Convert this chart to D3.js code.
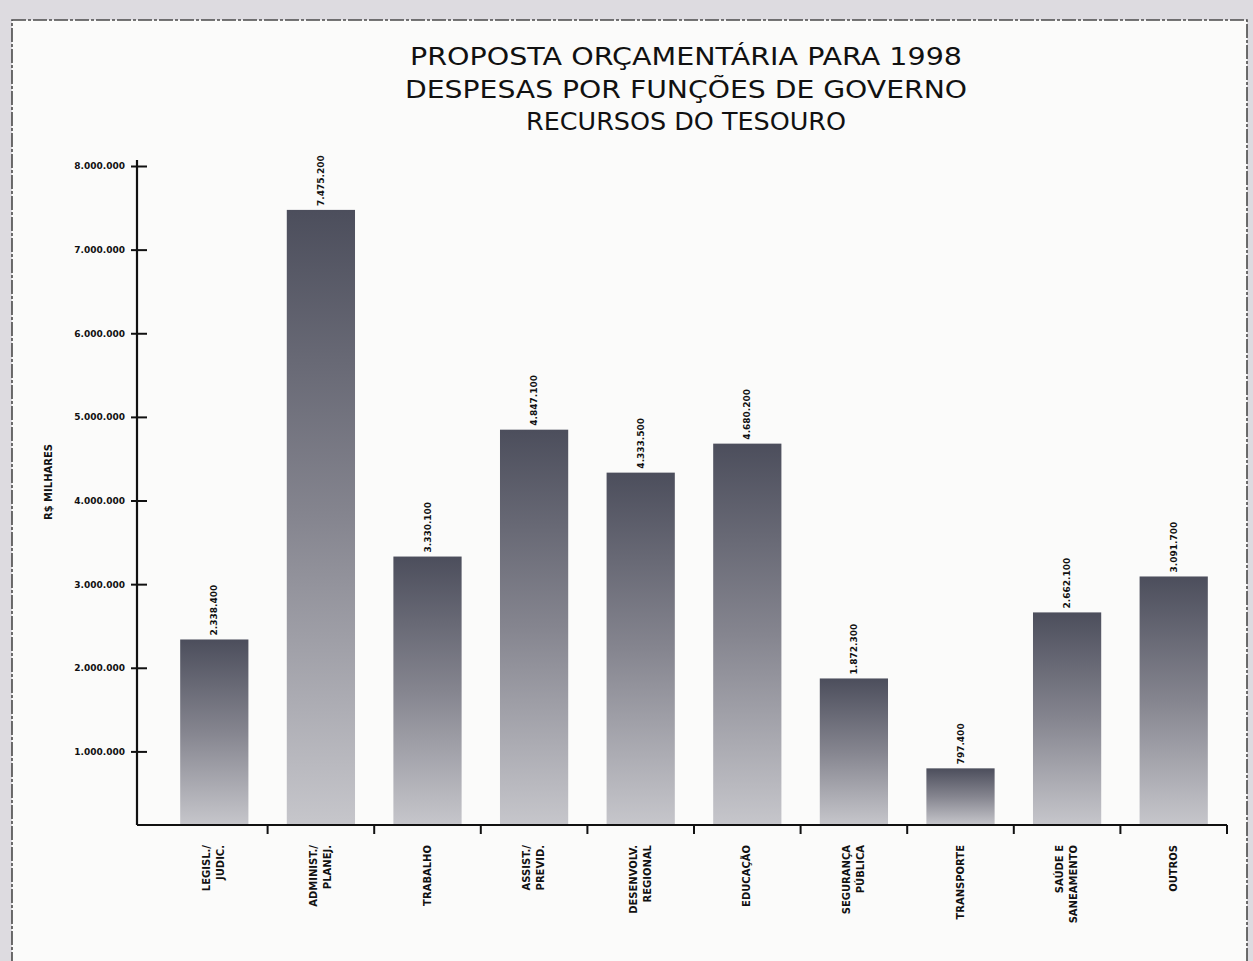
<!DOCTYPE html>
<html>
  <head>
    <meta charset="utf-8">
    <script src="https://cdn.jsdelivr.net/npm/d3@7"></script>
    <style>
      body { margin: 0; background: #dddbe0; }
      text { font-family: "DejaVu Sans", sans-serif; fill: #111; }
    </style>
  </head>
  <body>
    <svg id="orcamento" width="1253" height="961"></svg>
    <script>
      // categorias (funções de governo) - cada uma pode ter duas linhas
      var funcoes = [
        ["LEGISL./", "JUDIC."],
        ["ADMINIST./", "PLANEJ."],
        ["TRABALHO"],
        ["ASSIST./", "PREVID."],
        ["DESENVOLV.", "REGIONAL"],
        ["EDUCAÇÃO"],
        ["SEGURANÇA", "PÚBLICA"],
        ["TRANSPORTE"],
        ["SAÚDE E", "SANEAMENTO"],
        ["OUTROS"]
      ];
      // valores estimados, R$ mil
      var valores = [2338400, 7475200, 3330100, 4847100, 4333500, 4680200, 1872300, 797400, 2662100, 3091700];
      var yTicks = [1000000, 2000000, 3000000, 4000000, 5000000, 6000000, 7000000, 8000000];
      var yMin = 120000, yMax = 8000000;
      var titulo = [
        "PROPOSTA ORÇAMENTÁRIA PARA 1998",
        "DESPESAS POR FUNÇÕES DE GOVERNO",
        "RECURSOS DO TESOURO"
      ];
      var yLabel = "R$ MILHARES";

      var svg = d3.select("#orcamento");
      var fmt = d3.formatLocale({decimal: ",", thousands: ".", grouping: [3], currency: ["R$", ""]}).format(",.0f");

      // papel / moldura
      svg.append("rect").attr("x", 12).attr("y", 20).attr("width", 1235).attr("height", 960)
        .attr("fill", "#fbfbfa").attr("stroke", "#4a4a4a").attr("stroke-width", 1.6)
        .attr("stroke-dasharray", "14,2,3,2");

      var defs = svg.append("defs");
      var grad = defs.append("linearGradient").attr("id", "barra")
        .attr("x1", 0).attr("y1", 0).attr("x2", 0).attr("y2", 1);
      grad.append("stop").attr("offset", 0).attr("stop-color", "#4c4e5c");
      grad.append("stop").attr("offset", 0.5).attr("stop-color", "#85858f");
      grad.append("stop").attr("offset", 1).attr("stop-color", "#c6c6cb");

      var x = d3.scaleBand().domain(d3.range(funcoes.length))
        .range([161, 1227]).paddingInner(0.36).paddingOuter(0.18);
      var y = d3.scaleLinear().domain([yMin, yMax]).range([825, 166]);
      var base = y(yMin);

      // titulo
      var tw = [552, 562, 320];
      svg.append("g").selectAll("text").data(titulo).enter().append("text")
        .attr("x", 686).attr("y", function(d, i){ return 65 + i * 32.5; })
        .attr("text-anchor", "middle")
        .attr("font-size", 25)
        .attr("textLength", function(d, i){ return tw[i]; })
        .attr("lengthAdjust", "spacingAndGlyphs")
        .text(function(d){ return d; });

      // barras
      svg.append("g").selectAll("rect").data(valores).enter().append("rect")
        .attr("x", function(d, i){ return x(i); })
        .attr("y", function(d){ return y(d); })
        .attr("width", x.bandwidth())
        .attr("height", function(d){ return base - y(d); })
        .attr("fill", "url(#barra)");

      // rotulos dos valores
      svg.append("g").selectAll("text").data(valores).enter().append("text")
        .attr("transform", function(d, i){
          return "translate(" + (x(i) + x.bandwidth() / 2 + 3) + "," + (y(d) - 4) + ") rotate(-90)";
        })
        .attr("font-size", 9).attr("font-weight", "bold")
        .text(function(d){ return fmt(d); });

      // eixo y
      var yAxis = svg.append("g").attr("transform", "translate(137,0)")
        .call(d3.axisLeft(y).tickValues(yTicks).tickSize(8).tickPadding(4).tickFormat(fmt));
      yAxis.select(".domain").remove();
      yAxis.selectAll(".tick line").attr("x1", 10).attr("x2", -6).attr("stroke", "#111").attr("stroke-width", 2);
      yAxis.selectAll(".tick text").attr("font-size", 9).attr("font-weight", "bold")
        .attr("font-family", "DejaVu Sans").attr("fill", "#111");
      yAxis.append("line").attr("x1", 0).attr("x2", 0).attr("y1", 160).attr("y2", base)
        .attr("stroke", "#111").attr("stroke-width", 2.2);

      svg.append("text")
        .attr("transform", "translate(52," + 482 + ") rotate(-90)")
        .attr("text-anchor", "middle").attr("font-size", 10).attr("font-weight", "bold")
        .text(yLabel);

      // eixo x
      var xAxis = svg.append("g").attr("transform", "translate(0," + base + ")");
      xAxis.append("line").attr("x1", 137).attr("x2", x.range()[1]).attr("y1", 0).attr("y2", 0)
        .attr("stroke", "#111").attr("stroke-width", 2.2);
      xAxis.selectAll(".divisao").data(d3.range(1, funcoes.length + 1)).enter().append("line")
        .attr("x1", function(i){ return x.range()[0] + i * x.step(); })
        .attr("x2", function(i){ return x.range()[0] + i * x.step(); })
        .attr("y1", 0).attr("y2", 9)
        .attr("stroke", "#111").attr("stroke-width", 2);

      var rot = xAxis.selectAll(".rotulo").data(funcoes).enter().append("text")
        .attr("transform", function(d, i){
          var cx = x(i) + x.bandwidth() / 2 - (d.length - 1) * 7 + 3;
          return "translate(" + cx + ",20) rotate(-90)";
        })
        .attr("text-anchor", "end").attr("font-size", 10).attr("font-weight", "bold");
      rot.selectAll("tspan").data(function(d){ return d; }).enter().append("tspan")
        .attr("x", 0).attr("dy", function(d, j){ return j === 0 ? 0 : 14; })
        .text(function(d){ return d; });
    </script>
  </body>
</html>
